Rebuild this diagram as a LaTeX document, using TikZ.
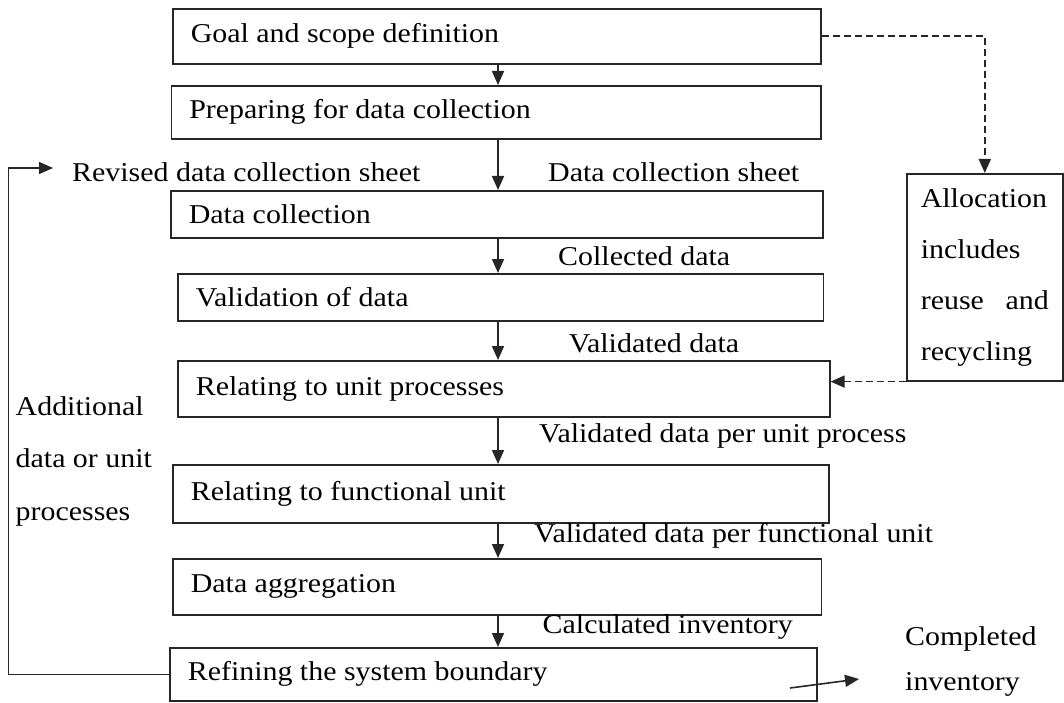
\documentclass[tikz,border=0pt]{standalone}
\usepackage{fontspec}
\setmainfont[FakeStretch=1.1]{Liberation Serif}
\usetikzlibrary{arrows.meta}

\begin{document}
\begin{tikzpicture}[
  x=1pt, y=-1pt,
  font=\fontsize{27.2}{33}\selectfont,
  stage/.style={draw=black!85, fill=white, line width=1.6pt,
                inner xsep=18pt, inner ysep=0pt, align=flush left,
                anchor=north west},
  lbl/.style={inner sep=0pt, anchor=base west},
  side/.style={inner sep=0pt, align=flush left, anchor=base west},
  flow/.style={-{Triangle[length=14pt, width=12pt]}, line width=1.6pt,
               black!85},
  dflow/.style={flow, dash pattern=on 7pt off 4pt},
]
\useasboundingbox (0,0) rectangle (1064,703);

% ------------------- stages -------------------
\node[stage, text width=612pt, minimum height=55pt] (goal) at (172,8)
  {Goal and scope definition};
\node[stage, text width=613.5pt, minimum height=53pt] (prep) at (170.5,85)
  {Preparing for data collection};
\node[stage, text width=616pt, minimum height=47pt] (collect) at (170,190)
  {Data collection};
\node[stage, text width=609.6pt, minimum height=47pt] (valid) at (177,273)
  {Validation of data};
\node[stage, text width=616pt, minimum height=56pt] (unitp) at (177,360)
  {Relating to unit processes};
\node[stage, text width=620pt, minimum height=58pt] (funcu) at (172,464)
  {Relating to functional unit};
\node[stage, text width=612.5pt, minimum height=56pt] (aggr) at (172,558)
  {Data aggregation};
\node[stage, text width=611pt, minimum height=53pt] (refine) at (169,647)
  {Refining the system boundary};

% allocation box on the right
\node[stage, inner xsep=14pt, text width=128pt, minimum height=207pt,
      font=\fontsize{27.2}{51}\selectfont] (alloc) at (906,173)
  {Allocation\\includes\\reuse\hfill and\\recycling};

% ------------------- labels on the flow -------------------
\node[lbl] (revsheet) at (72,182) {Revised data collection sheet};
\node[lbl] (sheet) at (548,182) {Data collection sheet};
\node[lbl] (collected) at (558,265) {Collected data};
\node[lbl] (validated) at (568.6,352) {Validated data};
\node[lbl] (perunit) at (539,442) {Validated data per unit process};
\node[lbl] (perfunc) at (534,542) {Validated data per functional unit};
\node[lbl] (calcinv) at (542.5,633) {Calculated inventory};

\node[side, font=\fontsize{27.2}{52.5}\selectfont] (additional) at (15.5,520)
  {Additional\\data or unit\\processes};
\node[side, font=\fontsize{27.2}{45}\selectfont] (completed) at (905,690)
  {Completed\\inventory};

% ------------------- connectors -------------------
\coordinate (spine) at (498,0);
\draw[flow] (goal.south -| spine) -- (prep.north -| spine);
\draw[flow] (prep.south -| spine) -- (collect.north -| spine);
\draw[flow] (collect.south -| spine) -- (valid.north -| spine);
\draw[flow] (valid.south -| spine) -- (unitp.north -| spine);
\draw[flow] (unitp.south -| spine) -- (funcu.north -| spine);
\draw[flow] (funcu.south -| spine) -- (aggr.north -| spine);
\draw[flow] (aggr.south -| spine) -- (refine.north -| spine);

% feedback loop
\coordinate (loopx) at (8.6,420);
\coordinate (revin) at (53,168);
\draw[flow] (refine.west) -- (refine.west -| loopx) |- (revin);

% allocation
\draw[dflow] (goal.east) -| (alloc.north);
\draw[dflow] (alloc.south west) -- (alloc.south west -| unitp.east);

% output
\coordinate (outfrom) at (790,688);
\coordinate (outto) at (859,679);
\draw[flow] (outfrom) -- (outto);

\end{tikzpicture}
\end{document}
